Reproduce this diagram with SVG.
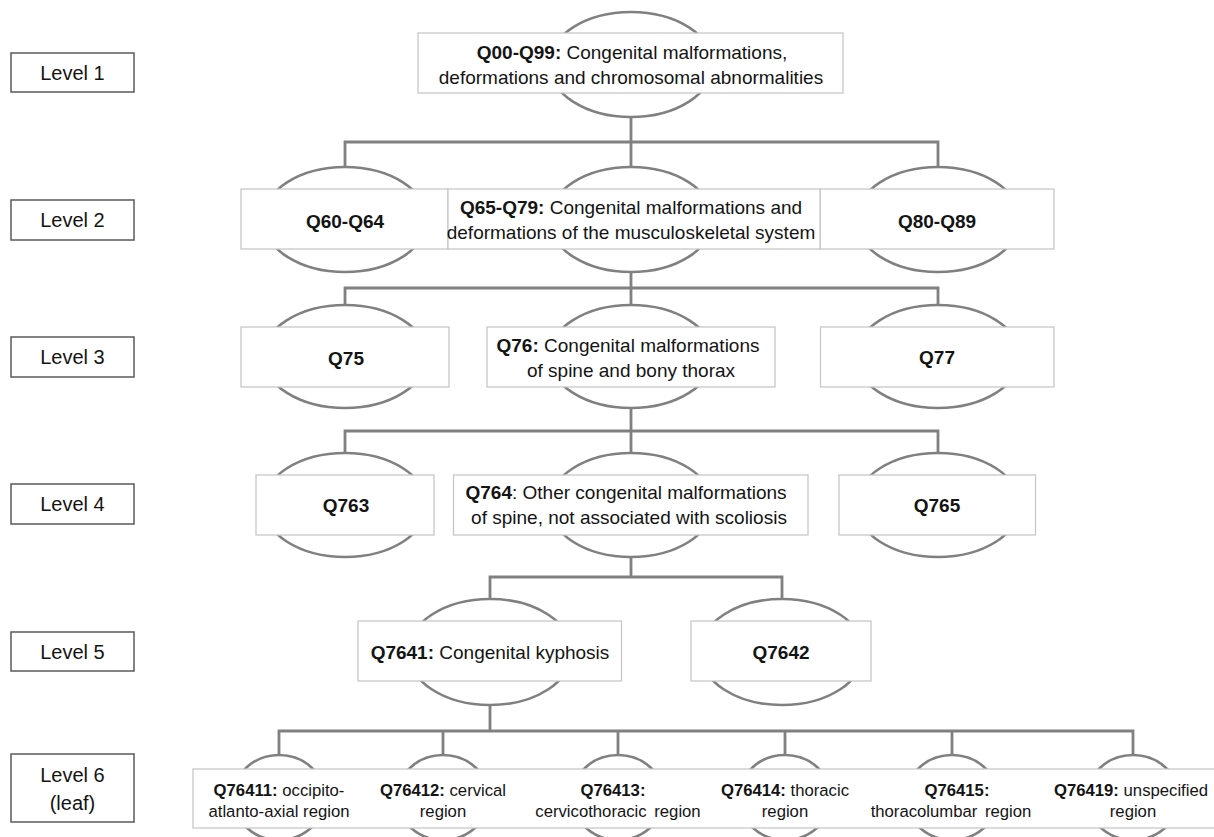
<svg xmlns="http://www.w3.org/2000/svg" width="1214" height="837" viewBox="0 0 1214 837">
<style>
.bg{fill:#ffffff}
.lvl{fill:#ffffff;stroke:#5a5a5a;stroke-width:1.5}
.ell{fill:#ffffff;stroke:#808080;stroke-width:2.6}
.box{fill:#ffffff;stroke:#c4c4c4;stroke-width:1.2}
.conn{fill:none;stroke:#808080;stroke-width:2.8;stroke-linejoin:miter}
text{font-family:"Liberation Sans",Arial,sans-serif;fill:#141414;text-anchor:middle}
.t{font-size:19px}
.tl{font-size:20px}
.ts{font-size:16.7px}
.b{font-weight:bold}
</style>
<rect class="bg" x="0" y="0" width="1214" height="837"/>

<g id="level-labels">
  <g id="level1"><rect class="lvl" x="11" y="53" width="123" height="39"/><text class="tl" x="72.5" y="80">Level 1</text></g>
  <g id="level2"><rect class="lvl" x="11" y="200" width="123" height="40"/><text class="tl" x="72.5" y="227">Level 2</text></g>
  <g id="level3"><rect class="lvl" x="11" y="337" width="123" height="40"/><text class="tl" x="72.5" y="364">Level 3</text></g>
  <g id="level4"><rect class="lvl" x="11" y="484" width="123" height="40"/><text class="tl" x="72.5" y="511">Level 4</text></g>
  <g id="level5"><rect class="lvl" x="11" y="632" width="123" height="39"/><text class="tl" x="72.5" y="658.5">Level 5</text></g>
  <g id="level6"><rect class="lvl" x="11" y="754" width="123" height="68"/><text class="tl" x="72.5" y="782">Level 6</text><text class="tl" x="72.5" y="810">(leaf)</text></g>
</g>

<g id="connectors">
  <path class="conn" d="M631 117V142M345 167V142H938V167M631 142V167"/>
  <path class="conn" d="M631 272V288M345 305V288H938V305M631 288V305"/>
  <path class="conn" d="M631 408V431M345 453V431H938V453M631 431V453"/>
  <path class="conn" d="M631 557V577M490 599V577H782V599"/>
  <path class="conn" d="M490 705V731M279 755V731H1133V755M443 731V755M618 731V755M785 731V755M952 731V755"/>
</g>

<g id="n-Q00-Q99">
  <ellipse class="ell" cx="631" cy="64.5" rx="82" ry="52.5"/>
  <rect class="box" x="418" y="33" width="425" height="60"/>
  <text class="t" x="632" y="58.5"><tspan class="b">Q00-Q99:</tspan> Congenital malformations,</text>
  <text class="t" x="631" y="83.5">deformations and chromosomal abnormalities</text>
</g>

<g id="n-Q60-Q64">
  <ellipse class="ell" cx="345" cy="219.5" rx="82" ry="52.5"/>
  <rect class="box" x="241" y="189" width="207" height="60"/>
  <text class="t b" x="345" y="228">Q60-Q64</text>
</g>
<g id="n-Q80-Q89">
  <ellipse class="ell" cx="938" cy="219.5" rx="82" ry="52.5"/>
  <rect class="box" x="820" y="189" width="234" height="60"/>
  <text class="t b" x="937" y="228">Q80-Q89</text>
</g>
<g id="n-Q65-Q79">
  <ellipse class="ell" cx="631" cy="219.5" rx="82" ry="52.5"/>
  <rect class="box" x="448" y="189" width="372" height="60"/>
  <text class="t" x="631" y="214"><tspan class="b">Q65-Q79:</tspan> Congenital malformations and</text>
  <text class="t" x="631" y="239">deformations of the musculoskeletal system</text>
</g>

<g id="n-Q75">
  <ellipse class="ell" cx="345" cy="356.5" rx="82" ry="51.5"/>
  <rect class="box" x="241" y="327" width="208" height="60"/>
  <text class="t b" x="346" y="365">Q75</text>
</g>
<g id="n-Q76">
  <ellipse class="ell" cx="631" cy="356.5" rx="82" ry="51.5"/>
  <rect class="box" x="487" y="327" width="288" height="60"/>
  <text class="t" x="628" y="352"><tspan class="b">Q76:</tspan> Congenital malformations</text>
  <text class="t" x="631" y="377">of spine and bony thorax</text>
</g>
<g id="n-Q77">
  <ellipse class="ell" cx="938" cy="356.5" rx="82" ry="51.5"/>
  <rect class="box" x="820.5" y="327" width="233.5" height="60"/>
  <text class="t b" x="937" y="364">Q77</text>
</g>

<g id="n-Q763">
  <ellipse class="ell" cx="345" cy="505" rx="82" ry="52"/>
  <rect class="box" x="256" y="475" width="178" height="60"/>
  <text class="t b" x="346" y="512">Q763</text>
</g>
<g id="n-Q764">
  <ellipse class="ell" cx="631" cy="505" rx="82" ry="52"/>
  <rect class="box" x="453.5" y="475" width="354.5" height="60"/>
  <text class="t" x="626" y="499"><tspan class="b">Q764</tspan>: Other congenital malformations</text>
  <text class="t" x="629" y="524">of spine, not associated with scoliosis</text>
</g>
<g id="n-Q765">
  <ellipse class="ell" cx="938" cy="505" rx="82" ry="52"/>
  <rect class="box" x="839" y="475" width="196.5" height="60"/>
  <text class="t b" x="937" y="512">Q765</text>
</g>

<g id="n-Q7641">
  <ellipse class="ell" cx="490" cy="652" rx="82" ry="53"/>
  <rect class="box" x="358" y="621" width="263.5" height="60"/>
  <text class="t" x="490" y="658.5"><tspan class="b">Q7641:</tspan> Congenital kyphosis</text>
</g>
<g id="n-Q7642">
  <ellipse class="ell" cx="782" cy="652" rx="82" ry="53"/>
  <rect class="box" x="691" y="621" width="180" height="60"/>
  <text class="t b" x="781" y="658.5">Q7642</text>
</g>

<g id="level6-ellipses">
  <ellipse class="ell" cx="279" cy="797.5" rx="46" ry="42.5"/>
  <ellipse class="ell" cx="443" cy="797.5" rx="46" ry="42.5"/>
  <ellipse class="ell" cx="618" cy="797.5" rx="46" ry="42.5"/>
  <ellipse class="ell" cx="785" cy="797.5" rx="46" ry="42.5"/>
  <ellipse class="ell" cx="952" cy="797.5" rx="46" ry="42.5"/>
  <ellipse class="ell" cx="1133" cy="797.5" rx="46" ry="42.5"/>
</g>
<g id="level6-box">
  <rect class="box" x="193" y="769" width="1025" height="59"/>
</g>
<g id="n-Q76411"><text class="ts" x="279" y="796"><tspan class="b">Q76411:</tspan> occipito-</text><text class="ts" x="279" y="817">atlanto-axial region</text></g>
<g id="n-Q76412"><text class="ts" x="443" y="796"><tspan class="b">Q76412:</tspan> cervical</text><text class="ts" x="443" y="817">region</text></g>
<g id="n-Q76413"><text class="ts b" x="613" y="796">Q76413:</text><text class="ts" x="618" y="817" word-spacing="3">cervicothoracic region</text></g>
<g id="n-Q76414"><text class="ts" x="785" y="796"><tspan class="b">Q76414:</tspan> thoracic</text><text class="ts" x="785" y="817">region</text></g>
<g id="n-Q76415"><text class="ts b" x="957" y="796">Q76415:</text><text class="ts" x="951" y="817" word-spacing="3">thoracolumbar region</text></g>
<g id="n-Q76419"><text class="ts" x="1131" y="796"><tspan class="b">Q76419:</tspan> unspecified</text><text class="ts" x="1133" y="817">region</text></g>
</svg>
